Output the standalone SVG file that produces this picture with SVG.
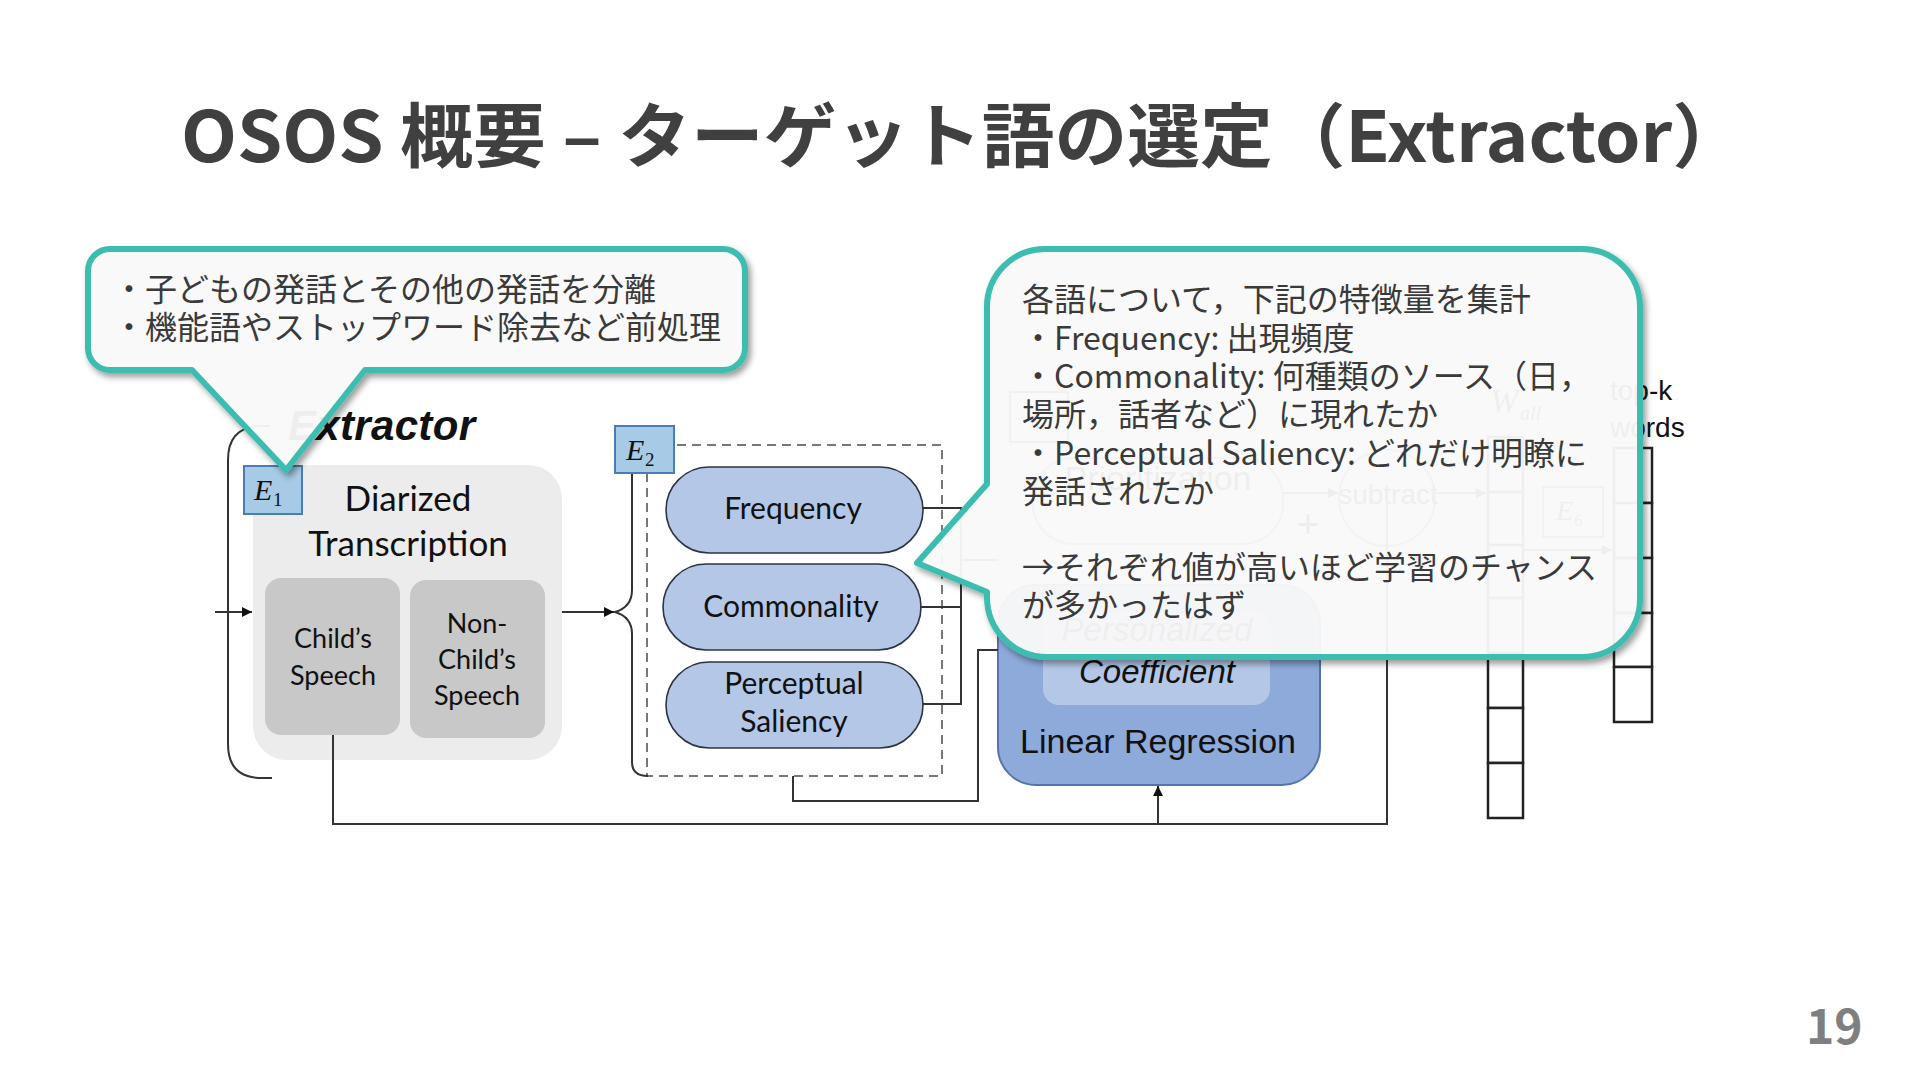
<svg xmlns="http://www.w3.org/2000/svg" width="1920" height="1080" viewBox="0 0 1920 1080">
<defs>
<style>
.ttl{font-family:"Noto Sans CJK JP","Noto Sans",sans-serif;font-weight:700;fill:#404040}
.jp{font-family:"Noto Sans CJK JP","Noto Sans",sans-serif;font-size:32px;fill:#3a3a3a}
.cal{font-family:Lato,"Open Sans",sans-serif;fill:#111;text-anchor:middle}
.ar{font-family:"Liberation Sans",Arial,sans-serif;fill:#111}
.ser{font-family:"Liberation Serif","Times New Roman",serif;fill:#111}
.ln{fill:none;stroke:#333;stroke-width:2}
.cell{fill:#fff;stroke:#222;stroke-width:2.5}
.ebox{fill:#a7cbe6;stroke:#4a7db5;stroke-width:2}
.pill{fill:#b4c7e7;stroke:#2c3444;stroke-width:1.6}
.callout{fill:#fcfcfc;fill-opacity:0.93;stroke:#3dbdb0;stroke-width:6;stroke-linejoin:round}
</style>
<marker id="arr" viewBox="0 0 10 10" refX="10" refY="5" markerWidth="10" markerHeight="10" markerUnits="userSpaceOnUse" orient="auto">
<path d="M0,0 L10,5 L0,10 Z" fill="#111"/>
</marker>
<filter id="sh" x="-10%" y="-10%" width="125%" height="130%">
<feDropShadow dx="3" dy="4" stdDeviation="3" flood-color="#000" flood-opacity="0.4"/>
</filter>
</defs>
<rect width="1920" height="1080" fill="#fff"/>

<text class="ttl" x="181" y="162" font-size="70" textLength="1564" lengthAdjust="spacingAndGlyphs">OSOS 概要 – ターゲット語の選定（Extractor）</text>

<!-- figure -->
<g id="extractor-frame">
<path class="ln" d="M270 426 L262 426 Q228 426 228 460 L228 744 Q228 778 262 778 L272 778" stroke="#9a9a9a" stroke-width="2.5"/>
<text class="ar" x="288" y="440" font-size="42" font-weight="700" font-style="italic" textLength="187">Extractor</text>
</g>

<g id="diarized">
<rect x="253" y="465" width="309" height="295" rx="34" fill="#ececec"/>
<text class="cal" x="408" y="511" font-size="35">Diarized</text>
<text class="cal" x="408" y="556" font-size="35">Transcription</text>
</g>
<g id="child-speech">
<rect x="265" y="578" width="135" height="157" rx="16" fill="#c8c8c8"/>
<text class="cal" x="333" y="648" font-size="27">Child’s</text>
<text class="cal" x="333" y="685" font-size="27">Speech</text>
</g>
<g id="nonchild-speech">
<rect x="410" y="580" width="135" height="158" rx="16" fill="#c8c8c8"/>
<text class="cal" x="477" y="633" font-size="27">Non-</text>
<text class="cal" x="477" y="669" font-size="27">Child’s</text>
<text class="cal" x="477" y="705" font-size="27">Speech</text>
</g>
<g id="e1">
<rect class="ebox" x="244" y="466" width="58" height="48"/>
<text class="ser" x="254" y="500" font-size="30" font-style="italic">E</text>
<text class="ser" x="273" y="506" font-size="19">1</text>
</g>

<g id="features-frame">
<rect x="647" y="445" width="295" height="331" fill="none" stroke="#777" stroke-width="2" stroke-dasharray="9 6"/>
<path class="ln" d="M632 474 L632 590 Q632 607 615 612 Q632 617 632 634 L632 762 Q632 776 648 776" stroke-width="1.6"/>
</g>
<g id="e2">
<rect class="ebox" x="615" y="426" width="59" height="47"/>
<text class="ser" x="626" y="460" font-size="30" font-style="italic">E</text>
<text class="ser" x="645" y="466" font-size="19">2</text>
</g>
<g id="frequency">
<rect class="pill" x="666" y="467" width="257" height="86" rx="43"/>
<text class="cal" x="793" y="519" font-size="30">Frequency</text>
</g>
<g id="commonality">
<rect class="pill" x="663" y="564" width="258" height="86" rx="43"/>
<text class="cal" x="791" y="617" font-size="30">Commonality</text>
</g>
<g id="perceptual">
<rect class="pill" x="666" y="662" width="257" height="86" rx="43"/>
<text class="cal" x="794" y="694" font-size="30">Perceptual</text>
<text class="cal" x="794" y="732" font-size="30">Saliency</text>
</g>

<g id="linear-regression">
<rect x="998" y="585" width="322" height="200" rx="38" fill="#8eaadb" stroke="#5574ad" stroke-width="2"/>
<rect x="1043" y="612" width="227" height="93" rx="16" fill="#b4c7e7"/>
<text class="ar" x="1157" y="641" font-size="33" font-style="italic" text-anchor="middle">Personalized</text>
<text class="ar" x="1157" y="683" font-size="33" font-style="italic" text-anchor="middle">Coefficient</text>
<text class="ar" x="1158" y="753" font-size="34" text-anchor="middle">Linear Regression</text>
</g>

<g id="hidden-parts">
<rect x="1010" y="392" width="58" height="50" fill="none" stroke="#555" stroke-width="2"/>
<rect x="1033" y="458" width="250" height="86" rx="40" fill="none" stroke="#777" stroke-width="2"/>
<text class="ar" x="1158" y="490" font-size="34" text-anchor="middle">Prioritization</text>
<circle cx="1387" cy="498" r="48" fill="none" stroke="#777" stroke-width="2"/>
<text class="ar" x="1388" y="504" font-size="28" text-anchor="middle">subtract</text>
<text class="ar" x="1308" y="538" font-size="40" text-anchor="middle">+</text>
<text class="ser" x="1490" y="412" font-size="34" font-style="italic">W</text>
<text class="ser" x="1520" y="420" font-size="20" font-style="italic">all</text>
<rect x="1543" y="487" width="60" height="50" fill="none" stroke="#555" stroke-width="2"/>
<text class="ser" x="1556" y="520" font-size="28" font-style="italic">E</text>
<text class="ser" x="1574" y="526" font-size="17">6</text>
</g>

<g id="all-words">
<rect class="cell" x="1488" y="437" width="35" height="55"/>
<rect class="cell" x="1488" y="492" width="35" height="53"/>
<rect class="cell" x="1488" y="545" width="35" height="53"/>
<rect class="cell" x="1488" y="598" width="35" height="55"/>
<rect class="cell" x="1488" y="653" width="35" height="55"/>
<rect class="cell" x="1488" y="708" width="35" height="55"/>
<rect class="cell" x="1488" y="763" width="35" height="55"/>
</g>
<g id="topk-words">
<text class="ar" x="1610" y="400" font-size="28">top-k</text>
<text class="ar" x="1610" y="437" font-size="28">words</text>
<rect class="cell" x="1614" y="448" width="38" height="55"/>
<rect class="cell" x="1614" y="503" width="38" height="55"/>
<rect class="cell" x="1614" y="558" width="38" height="55"/>
<rect class="cell" x="1614" y="613" width="38" height="54"/>
<rect class="cell" x="1614" y="667" width="38" height="55"/>
</g>

<g id="connectors">
<line class="ln" x1="215" y1="612" x2="252" y2="612" marker-end="url(#arr)"/>
<line class="ln" x1="562" y1="612" x2="614" y2="612" marker-end="url(#arr)"/>
<polyline class="ln" points="333,735 333,824 1387,824 1387,500"/>
<line class="ln" x1="1158" y1="824" x2="1158" y2="786" marker-end="url(#arr)"/>
<polyline class="ln" points="922,508 961,508 961,704 922,704"/>
<line class="ln" x1="920" y1="607" x2="961" y2="607"/>
<line class="ln" x1="961" y1="560" x2="998" y2="560"/>
<polyline class="ln" points="793,776 793,801 978,801 978,650 998,650"/>
<line class="ln" x1="1283" y1="493" x2="1338" y2="493" stroke="#777" marker-end="url(#arr)"/>
<line class="ln" x1="1436" y1="493" x2="1486" y2="493" stroke="#777" marker-end="url(#arr)"/>
<line class="ln" x1="1523" y1="550" x2="1612" y2="550" stroke="#777" marker-end="url(#arr)"/>
</g>

<!-- callouts -->
<g id="callout-preprocess" filter="url(#sh)">
<path class="callout" d="M110 249 H723 A22 22 0 0 1 745 271 V348 A22 22 0 0 1 723 370 H365 L286 470 L192 370 H110 A22 22 0 0 1 88 348 V271 A22 22 0 0 1 110 249 Z"/>
</g>
<g id="callout-preprocess-text">
<text class="jp" x="113" y="301">・子どもの発話とその他の発話を分離</text>
<text class="jp" x="113" y="339">・機能語やストップワード除去など前処理</text>
</g>

<g id="callout-features" filter="url(#sh)">
<path class="callout" d="M1045 249 H1582 A58 58 0 0 1 1640 307 V599 A58 58 0 0 1 1582 657 H1047 A60 60 0 0 1 987 597 V592 L917 563 L987 484 V307 A58 58 0 0 1 1045 249 Z"/>
</g>
<g id="callout-features-text">
<text class="jp" x="1022" y="311">各語について，下記の特徴量を集計</text>
<text class="jp" x="1022" y="350">・Frequency: 出現頻度</text>
<text class="jp" x="1022" y="388">・Commonality: 何種類のソース（日，</text>
<text class="jp" x="1022" y="426">場所，話者など）に現れたか</text>
<text class="jp" x="1022" y="465">・Perceptual Saliency: どれだけ明瞭に</text>
<text class="jp" x="1022" y="503">発話されたか</text>
<text class="jp" x="1022" y="579">→それぞれ値が高いほど学習のチャンス</text>
<text class="jp" x="1022" y="617">が多かったはず</text>
</g>

<text class="ttl" x="1806" y="1044" font-size="48" style="fill:#7f7f7f">19</text>
</svg>
